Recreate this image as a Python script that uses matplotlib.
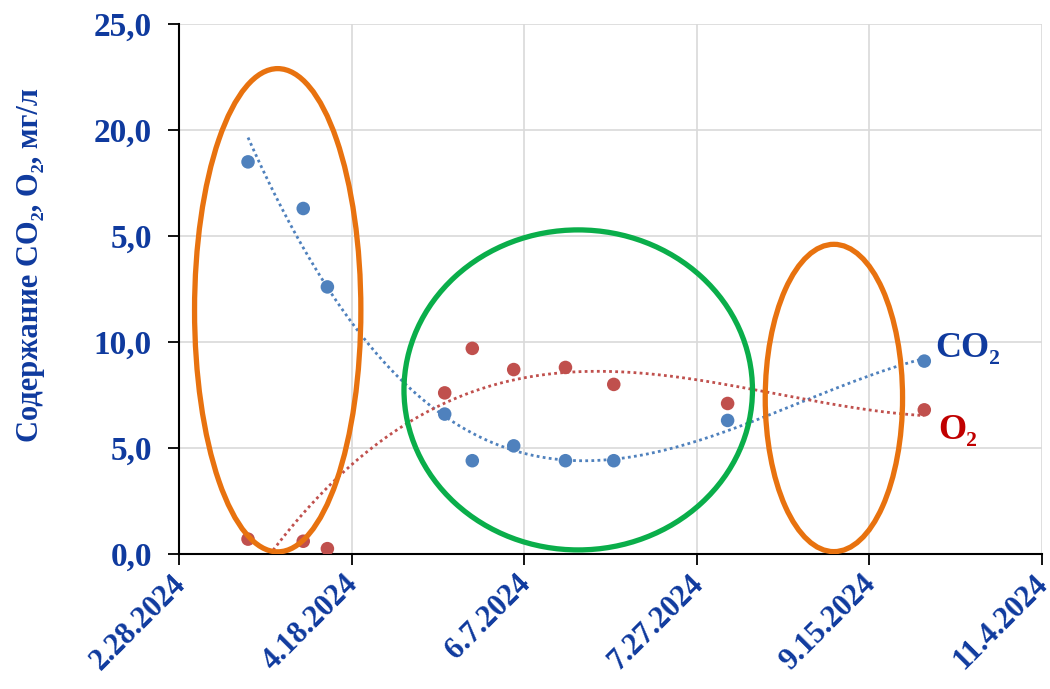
import numpy as np
import matplotlib
matplotlib.use('Agg')
import matplotlib.pyplot as plt
import matplotlib.dates as mdates
import matplotlib.transforms as mtransforms
from matplotlib.patches import Ellipse

# sampling dates and measured values, mg/l
dates = ['2024-03-19', '2024-04-04', '2024-04-11', '2024-05-15', '2024-05-23',
         '2024-06-04', '2024-06-19', '2024-07-03', '2024-08-05', '2024-10-01']
co2 = [18.5, 16.3, 12.6, 6.6, 4.4, 5.1, 4.4, 4.4, 6.3, 9.1]
o2 = [0.7, 0.6, 0.25, 7.6, 9.7, 8.7, 8.8, 8.0, 7.1, 6.8]

x_ticks = ['2024-02-28', '2024-04-18', '2024-06-07', '2024-07-27', '2024-09-15', '2024-11-04']
y_ticks = [0, 5, 10, 15, 20, 25]
y_ticklabels = ['0,0', '5,0', '10,0', '5,0', '20,0', '25,0']

blue = '#4F81BD'
red = '#C0504D'
navy = '#0F3A9E'

plt.rcParams['font.family'] = ['Liberation Serif', 'DejaVu Serif']

fig = plt.figure(figsize=(10.5, 6.89), dpi=100)
fig.subplots_adjust(left=.1705, bottom=.196, right=.992, top=.965)
ax = plt.axes()

x = mdates.date2num(np.array(dates, dtype='datetime64[D]'))
xt = mdates.date2num(np.array(x_ticks, dtype='datetime64[D]'))

# polynomial trendlines (order 3), like the spreadsheet ones
xs = np.linspace(x[0], x[-1], 300)
for vals, col in [(co2, blue), (o2, red)]:
    p = np.polyfit(x - x[0], vals, 3)
    ax.plot(xs, np.polyval(p, xs - x[0]), color=col, lw=2, dashes=(1, 1.2), zorder=2)

ax.scatter(x, co2, s=95, color=blue, zorder=3, edgecolors='none')
ax.scatter(x, o2, s=95, color=red, zorder=3, edgecolors='none')

# highlight ellipses: (centre day from start, centre value, width days, height value, colour)
t0 = xt[0]
for cx, cy, w, h, col in [(28.6, 11.5, 48.2, 22.8, '#E8720F'),
                          (115.7, 7.74, 101, 15.1, '#0AAE4A'),
                          (189.8, 7.36, 39.8, 14.5, '#E8720F')]:
    ax.add_patch(Ellipse((t0 + cx, cy), w, h, fill=False, ec=col, lw=3.8, zorder=4))

ax.text(x[-1] + 3.2, co2[-1] + 0.2, 'CO₂', color=navy, fontsize=26, fontweight='bold',
        va='baseline', ha='left')
ax.text(x[-1] + 4, o2[-1] - 1.37, 'O₂', color='#C00000', fontsize=26, fontweight='bold',
        va='baseline', ha='left')

ax.set_xlim(xt[0], xt[-1])
ax.set_ylim(0, 25)
ax.set_xticks(xt)
ax.set_xticklabels([f'{d.month}.{d.day}.{d.year}' for d in mdates.num2date(xt)])
ax.set_yticks(y_ticks)
ax.set_yticklabels(y_ticklabels)

ax.tick_params(axis='both', labelcolor=navy, length=8, width=1.3, color='black')
ax.tick_params(axis='y', pad=11.5, labelsize=24)
ax.tick_params(axis='x', pad=3, labelsize=22)
shift = mtransforms.ScaledTranslation(-8 / 100, 0, fig.dpi_scale_trans)
for lab in ax.get_xticklabels():
    lab.set_rotation(45)
    lab.set_ha('right')
    lab.set_rotation_mode('anchor')
    lab.set_transform(lab.get_transform() + shift)
for lab in ax.get_xticklabels() + ax.get_yticklabels():
    lab.set_fontweight('bold')

ax.grid(color='#D9D9D9', lw=1.2)
ax.set_axisbelow(True)
for s in ['top', 'right']:
    ax.spines[s].set_visible(False)
for s in ['left', 'bottom']:
    ax.spines[s].set_linewidth(1.5)

ax.set_ylabel('Содержание CO₂, O₂, мг/л', color=navy, fontsize=22, fontweight='bold')
ax.yaxis.set_label_coords(-0.155, 0.545)

fig.savefig('out.png')
